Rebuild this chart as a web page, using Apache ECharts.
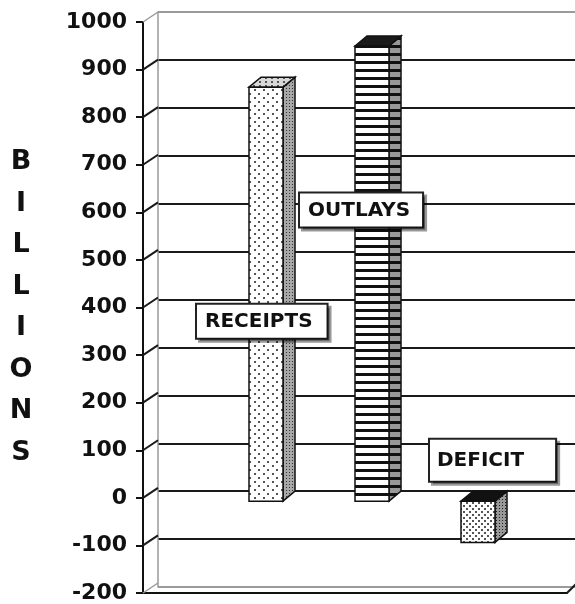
<!DOCTYPE html>
<html>
<head>
<meta charset="utf-8">
<script src="https://cdn.jsdelivr.net/npm/echarts@6/dist/echarts.min.js"></script>
<style>
  html, body { margin: 0; padding: 0; background: #fff; }
  #chart { width: 575px; height: 604px; }
</style>
</head>
<body>
<div id="chart"></div>
<script>
// values (billions)
const categories = ['RECEIPTS', 'OUTLAYS', 'DEFICIT']
const amounts = [864, 950, -86]
const tickValues = [-200, -100, 0, 100, 200, 300, 400, 500, 600, 700, 800, 900, 1000]
const axisTitle = 'BILLIONS'

const FONT = '"DejaVu Sans", sans-serif'
const DX = 12, DY = -10   // 3d depth offset
const BAR_W = 34

function makePattern(w, h, bg, draw) {
  const c = document.createElement('canvas')
  c.width = w
  c.height = h
  const ctx = c.getContext('2d')
  ctx.fillStyle = bg
  ctx.fillRect(0, 0, w, h)
  draw(ctx)
  return { image: c, repeat: 'repeat' }
}

const faces = [
  {
    front: makePattern(9, 8, '#fff', ctx => {
      ctx.fillStyle = '#555'
      ctx.fillRect(2, 1, 2, 2)
      ctx.fillRect(6, 5, 2, 2)
    }),
    side: makePattern(3, 3, '#a8a8a8', ctx => {
      ctx.fillStyle = '#333'
      ctx.fillRect(1, 1, 1, 1)
    }),
    top: makePattern(6, 4, '#d8d8d8', ctx => {
      ctx.fillStyle = '#555'
      ctx.fillRect(1, 1, 2, 2)
    })
  },
  {
    front: makePattern(2, 8, '#fff', ctx => {
      ctx.fillStyle = '#111'
      ctx.fillRect(0, 5, 2, 3)
    }),
    side: makePattern(2, 8, '#999', ctx => {
      ctx.fillStyle = '#111'
      ctx.fillRect(0, 5, 2, 3)
    }),
    top: '#1a1a1a'
  },
  {
    front: makePattern(6, 6, '#fff', ctx => {
      ctx.fillStyle = '#555'
      ctx.fillRect(1, 1, 2, 2)
      ctx.fillRect(4, 4, 2, 2)
    }),
    side: makePattern(3, 3, '#999', ctx => {
      ctx.fillStyle = '#222'
      ctx.fillRect(1, 1, 1, 1)
    }),
    top: '#111'
  }
]

// callout boxes: offset from bar centre, top edge expressed on the value scale, padding
const callouts = [
  { dx: -69, at: 410, padding: [6, 14, 5, 8] },
  { dx: -72, at: 642, padding: [6, 12, 5, 8] },
  { dx: -48, at: 128, padding: [10, 31, 9, 7] }
]

const chart = echarts.init(document.getElementById('chart'))

const gridLineColors = tickValues.map((v, i) => (i === 0 || i === tickValues.length - 1) ? '#9a9a9a' : '#1a1a1a')

chart.setOption({
  animation: false,
  grid: [
    { left: 143, right: 8, top: 22, bottom: 7 },   // front axis
    { left: 158, right: 0, top: 12, bottom: 17 },  // back wall
    { left: 213, right: 44, top: 22, bottom: 7 }   // bars
  ],
  xAxis: [
    {
      gridIndex: 0, type: 'category', data: categories,
      axisLine: { onZero: false, lineStyle: { color: '#111', width: 2 } },
      axisTick: { show: false },
      axisLabel: { show: false }
    },
    { gridIndex: 1, type: 'category', data: categories, show: false },
    { gridIndex: 2, type: 'category', data: categories, show: false }
  ],
  yAxis: [
    {
      gridIndex: 0, type: 'value', min: -200, max: 1000, interval: 100,
      name: axisTitle.split('').join('\n'),
      nameLocation: 'middle',
      nameRotate: 0,
      nameGap: 122,
      nameTextStyle: {
        fontFamily: FONT, fontWeight: 'bold', fontSize: 27, color: '#111',
        lineHeight: 41.5, align: 'center', verticalAlign: 'middle'
      },
      axisLine: { show: true, lineStyle: { color: '#111', width: 2 } },
      axisTick: { show: true, length: 7, lineStyle: { color: '#111', width: 2 } },
      axisLabel: {
        margin: 16, fontFamily: FONT, fontWeight: 'bold', fontSize: 22, color: '#111',
        formatter: v => String(v)
      },
      splitLine: { show: false }
    },
    {
      gridIndex: 1, type: 'value', min: -200, max: 1000, interval: 100,
      axisLine: { show: true, lineStyle: { color: '#9a9a9a', width: 1.5 } },
      axisTick: { show: false },
      axisLabel: { show: false },
      splitLine: { show: true, lineStyle: { color: gridLineColors, width: 2 } }
    },
    {
      gridIndex: 2, type: 'value', min: -200, max: 1000, interval: 100, show: false,
      splitLine: { show: false }
    }
  ],
  series: [
    {
      // depth connectors from the front axis to the back wall
      type: 'custom',
      xAxisIndex: 0,
      yAxisIndex: 0,
      z: 2,
      data: tickValues.map(v => [0, v]),
      renderItem(params, api) {
        const cs = params.coordSys
        const v = api.value(1)
        const y = api.coord([0, v])[1]
        const edge = v === tickValues[0] || v === tickValues[tickValues.length - 1]
        const children = [{
          type: 'line',
          shape: { x1: cs.x, y1: y, x2: cs.x + 15, y2: y + DY },
          style: { stroke: edge ? '#9a9a9a' : '#1a1a1a', lineWidth: edge ? 1.5 : 2 }
        }]
        if (v === tickValues[0]) {
          children.push({
            type: 'line',
            shape: { x1: cs.x + cs.width, y1: y, x2: cs.x + cs.width + 10, y2: y + DY },
            style: { stroke: '#1a1a1a', lineWidth: 2 }
          })
        }
        return { type: 'group', children }
      }
    },
    {
      type: 'custom',
      xAxisIndex: 2,
      yAxisIndex: 2,
      z: 3,
      data: amounts.map((v, i) => [i, v]),
      renderItem(params, api) {
        const i = api.value(0)
        const v = api.value(1)
        const pv = api.coord([i, v])
        const p0 = api.coord([i, 0])
        const x0 = pv[0] - BAR_W / 2
        const x1 = pv[0] + BAR_W / 2
        const yTop = Math.min(pv[1], p0[1])
        const yBot = Math.max(pv[1], p0[1])
        const f = faces[i]
        const c = callouts[i]
        const outline = { stroke: '#111', lineWidth: 1.5 }
        return {
          type: 'group',
          children: [
            {
              type: 'polygon',
              shape: { points: [[x1, yTop], [x1 + DX, yTop + DY], [x1 + DX, yBot + DY], [x1, yBot]] },
              style: Object.assign({ fill: f.side }, outline)
            },
            {
              type: 'polygon',
              shape: { points: [[x0, yTop], [x0 + DX, yTop + DY], [x1 + DX, yTop + DY], [x1, yTop]] },
              style: Object.assign({ fill: f.top }, outline)
            },
            {
              type: 'rect',
              shape: { x: x0, y: yTop, width: BAR_W, height: yBot - yTop },
              style: Object.assign({ fill: f.front }, outline)
            },
            {
              type: 'text',
              z2: 50,
              x: pv[0] + c.dx,
              y: api.coord([i, c.at])[1],
              style: {
                text: categories[i],
                fontFamily: FONT,
                fontWeight: 'bold',
                fontSize: 20,
                lineHeight: 22,
                fill: '#111',
                align: 'left',
                verticalAlign: 'top',
                backgroundColor: '#fff',
                borderColor: '#222',
                borderWidth: 2,
                padding: c.padding,
                shadowColor: 'rgba(0,0,0,0.4)',
                shadowOffsetX: 3,
                shadowOffsetY: 3
              }
            }
          ]
        }
      }
    }
  ]
})
</script>
</body>
</html>
